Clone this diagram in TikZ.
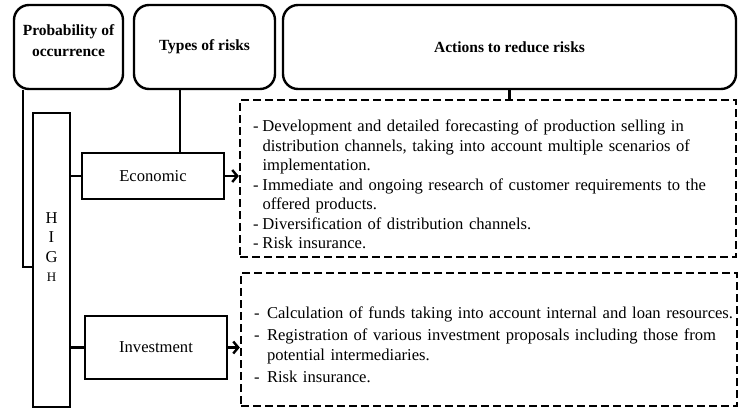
\documentclass[tikz,border=0pt]{standalone}
\usepackage{fontspec}
\setmainfont{Liberation Serif}
\usetikzlibrary{arrows.meta}

\newcommand{\actitem}[2][9.5pt]{\par\hangindent=#1\hangafter=1\noindent\makebox[#1][l]{-}#2\par}

\begin{document}
\begin{tikzpicture}[x=1pt,y=-1pt,
  every node/.style={font=\fontsize{16.6}{19.5}\selectfont, inner sep=0pt},
  headbox/.style={draw, line width=2.4pt, rounded corners=15pt, minimum height=84pt,
    font=\fontsize{15.5}{21}\selectfont\bfseries, align=center},
  riskbox/.style={draw, line width=2.4pt},
  actbox/.style={draw, line width=2.4pt, dash pattern=on 8pt off 4pt, align=left, inner xsep=13pt},
  link/.style={line width=2.4pt},
  toact/.style={line width=2.4pt, -{Straight Barb[length=5pt,width=12pt]}}]
\useasboundingbox (0,0) rectangle (738,410);

% Header boxes
\node[headbox, minimum width=109pt] (prob) at (68.5,47) {Probability of\\occurrence\\[-8pt]};
\node[headbox, minimum width=141pt] (types) at (204.5,47) {Types of risks};
\node[headbox, minimum width=453pt] (actions) at (509.5,47) {Actions to reduce risks};

% Probability level
\node[riskbox, minimum width=37pt, minimum height=294pt, align=center] (high) at (51.5,260)
  {H\\I\\G\\{\fontsize{13}{19.5}\selectfont H}\\[6pt]};

% Types of risks
\node[riskbox, minimum width=142pt, minimum height=46pt] (econ) at (153,176) {Economic};
\node[riskbox, minimum width=142pt, minimum height=63pt] (invest) at (156,347.5) {Investment};

% Actions to reduce risks
\node[actbox, minimum width=496pt, minimum height=157pt, text width=470pt] (econact) at (488,178.5) {%
  \par\vspace*{4pt}%
  \actitem{Development and detailed forecasting of production selling in\newline distribution channels, taking into account multiple scenarios of\newline implementation.}
  \actitem{Immediate and ongoing research of customer requirements to the\newline offered products.}
  \actitem{Diversification of distribution channels.}
  \actitem{Risk insurance.}};
\node[actbox, minimum width=494pt, minimum height=133pt, text width=470pt] (investact) at (489,339.5) {%
  \setlength{\parskip}{2.5pt}%
  \actitem[13pt]{\mbox{Calculation of funds taking into account internal and loan resources.}}
  \actitem[13pt]{Registration of various investment proposals including those from\newline potential intermediaries.}
  \actitem[13pt]{Risk insurance.}};

% Links
\coordinate (probfoot) at ([xshift=10pt]prob.south west);
\coordinate (typesfoot) at ([xshift=-24.5pt]types.south);
\draw[link] (probfoot) |- ([yshift=-7pt]high.west);
\draw[link] (typesfoot) -- (typesfoot |- econ.north);
\draw[link] (high.east |- econ.west) -- (econ.west);
\draw[link] (high.east |- invest.west) -- (invest.west);
\draw[link] (actions.south) -- (actions.south |- econact.north);
\draw[toact] (econ.east) -- (econ.east -| econact.west);
\draw[toact] (invest.east) -- (invest.east -| investact.west);

\end{tikzpicture}
\end{document}
